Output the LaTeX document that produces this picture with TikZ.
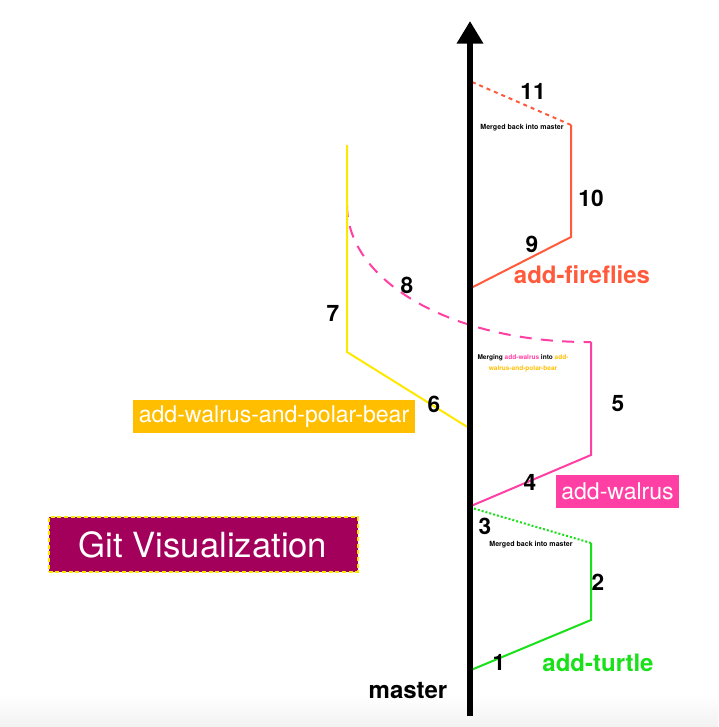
\documentclass[tikz,border=0pt]{standalone}
\usepackage{fontspec}
\setmainfont{TeX Gyre Heros}
\usetikzlibrary{arrows.meta}
\definecolor{cgreen}{HTML}{19E019}
\definecolor{cpink}{HTML}{FF3FA4}
\definecolor{cyel}{HTML}{FFE800}
\definecolor{camber}{HTML}{FFBF00}
\definecolor{cred}{HTML}{FF5A3C}
\definecolor{cmaroon}{HTML}{A2005A}
\definecolor{cgray}{HTML}{F2F2F2}
\begin{document}
\begin{tikzpicture}[x=0.75pt,y=-0.75pt,
  branch/.style={line width=1.5pt},
  num/.style={font=\fontsize{17}{17}\selectfont\bfseries, inner sep=0pt},
  tiny/.style={font=\fontsize{5.3}{6.5}\selectfont\bfseries, inner sep=0pt, align=center},
  tinier/.style={font=\fontsize{4.9}{8.5}\selectfont\bfseries, inner sep=0pt, align=center},
  boldlabel/.style={font=\fontsize{18}{18}\selectfont\bfseries, inner sep=0pt},
  boxlabel/.style={font=\fontsize{17.3}{17.3}\selectfont, text=white, inner sep=0pt}]
\useasboundingbox (0,0) rectangle (718,727);
\shade[top color=white,bottom color=cgray] (0,695) rectangle (718,727);
% coordinates
\coordinate (mbot) at (470,716);
\coordinate (mtop) at (470,21);
\coordinate (g0) at (471,670);
\coordinate (g1) at (591,620);
\coordinate (g2) at (591,543);
\coordinate (g3) at (472,508);
\coordinate (p0) at (471,506);
\coordinate (p1) at (591,455);
\coordinate (p2) at (591,342);
\coordinate (p3) at (347,205);
\coordinate (y0) at (469,428);
\coordinate (y1) at (347,352);
\coordinate (y2) at (347,145);
\coordinate (r0) at (471,288);
\coordinate (r1) at (571,237);
\coordinate (r2) at (571,125);
\coordinate (r3) at (472,82);
% branches
\draw[branch,cgreen] (g0) -- (g1) -- (g2);
\draw[branch,cgreen,dash pattern=on 1.5pt off 1.5pt] (g2) -- (g3);
\draw[branch,cpink] (p0) -- (p1) -- (p2);
\draw[branch,cpink,dash pattern=on 9pt off 7pt] (p3) .. controls (347,283) and (456,343) .. (p2);
\draw[branch,cyel] (y0) -- (y1) -- (y2);
\draw[branch,cred] (r0) -- (r1) -- (r2);
\draw[branch,cred,dash pattern=on 3pt off 3pt] (r2) -- (r3);
% master
\draw[line width=4.5pt,-{Triangle[length=17pt,width=19pt]}] (mbot) -- (mtop);
% numbers
\node[num] (n1) at (499,662) {1};
\node[num] (n2) at (598,582) {2};
\node[num] (n3) at (485,526) {3};
\node[num] (n4) at (530,482) {4};
\node[num] (n5) at (618,404) {5};
\node[num] (n6) at (434,404) {6};
\node[num] (n7) at (333,313) {7};
\node[num] (n8) at (407,285) {8};
\node[num] (n9) at (532,244) {9};
\node[num] (n10) at (591,198) {10};
\node[num] (n11) at (533,91) {11};
% small texts
\node[tiny] (mg1) at (531,545) {Merged back into master};
\node[tiny] (mg2) at (522,128) {Merged back into master};
\node[tinier] (mg3) at (523,363) {Merging \textcolor{cpink}{add-walrus} into \textcolor{camber}{add-}\\\textcolor{camber}{walrus-and-polar-bear}};
% labels
\node[boldlabel,text=cgreen] (lturtle) at (598,663) {add-turtle};
\node[boldlabel,text=cred] (lfire) at (582,275) {add-fireflies};
\node[boldlabel] (lmaster) at (408,691) {master};
\node[boxlabel,fill=cpink,minimum width=92pt,minimum height=24.75pt] (lwalrus) at (617.5,491.5) {add-walrus};
\node[boxlabel,fill=camber,minimum width=211.5pt,minimum height=24.75pt] (lpolar) at (274,416.5) {add-walrus-and-polar-bear};
\node[font=\fontsize{26}{26}\selectfont,text=white,fill=cmaroon,draw=cyel,line width=1.5pt,dash pattern=on 3pt off 2pt,inner sep=0pt,minimum width=231.75pt,minimum height=41pt] (title) at (203,544.5) {Git Visualization};
\end{tikzpicture}
\end{document}
